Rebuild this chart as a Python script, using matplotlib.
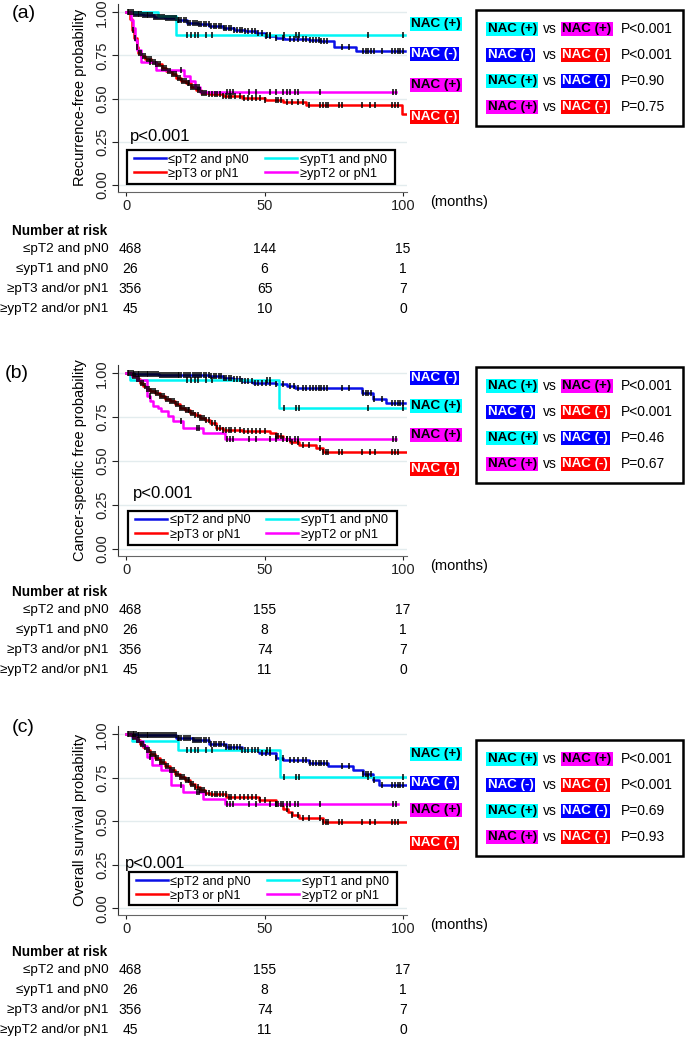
import numpy as np
import matplotlib
matplotlib.use('Agg')
import matplotlib.pyplot as plt
import matplotlib.transforms as mtransforms
from matplotlib.patches import Rectangle

plt.rcParams['font.family'] = ['Liberation Sans', 'DejaVu Sans']

# ------------------------------------------------------------------ data
panel_letters = ['(a)', '(b)', '(c)']
y_labels = ['Recurrence-free probability', 'Cancer-specific free probability',
            'Overall survival probability']
month_ticks = [0, 50, 100]
prob_ticks = [0.0, 0.25, 0.5, 0.75, 1.0]
legend_names = ['≤pT2 and pN0', '≤ypT1 and pN0', '≥pT3 or pN1', '≥ypT2 or pN1']
risk_names = ['≤pT2 and pN0', '≤ypT1 and pN0', '≥pT3 and/or pN1', '≥ypT2 and/or pN1']
risk_times = [0, 50, 100]
overall_p = ['p<0.001', 'p<0.001', 'p<0.001']

# (a) recurrence-free
blue_t_a = [0, 3, 6, 10, 14, 18, 22, 26, 30, 35, 39, 43, 47, 50, 54, 57, 66, 70, 75, 83, 100.7]
blue_s_a = [1.0, 0.99, 0.985, 0.975, 0.965, 0.955, 0.94, 0.93, 0.918, 0.908, 0.90, 0.89, 0.878,
            0.865, 0.85, 0.843, 0.839, 0.833, 0.798, 0.775, 0.775]
cyan_t_a = [0, 11.5, 18, 100.7]
cyan_s_a = [1.0, 0.98, 0.866, 0.866]
red_t_a = [0, 1.5, 2.2, 3, 3.8, 4.5, 5.5, 7, 9, 11, 13, 14.6, 16.5, 18.2, 20, 21.8, 23.5,
           25.4, 27, 30, 35, 42, 50, 56.5, 65, 99.5, 101]
red_s_a = [1.0, 0.96, 0.90, 0.85, 0.80, 0.765, 0.745, 0.727, 0.71, 0.698, 0.68, 0.659, 0.64,
           0.62, 0.605, 0.59, 0.57, 0.552, 0.533, 0.525, 0.515, 0.505, 0.495, 0.48, 0.465,
           0.41, 0.41]
mag_t_a = [0, 1.8, 2.5, 3.2, 4, 5.5, 11, 21, 23, 25, 26.6, 97.3]
mag_s_a = [1.0, 0.955, 0.91, 0.84, 0.78, 0.71, 0.665, 0.63, 0.60, 0.568, 0.539, 0.539]

# (b) cancer-specific
blue_t_b = [0, 3, 12, 30, 35, 38.5, 42, 45.8, 50, 54, 58, 61, 85, 89, 93.8, 100.8]
blue_s_b = [1.0, 0.995, 0.99, 0.985, 0.975, 0.966, 0.958, 0.947, 0.942, 0.937, 0.93, 0.918,
            0.89, 0.855, 0.829, 0.829]
cyan_t_b = [0, 1.5, 55.3, 100.8]
cyan_s_b = [1.0, 0.962, 0.80, 0.80]
red_t_b = [0, 2, 3.8, 5, 6.2, 7.4, 8.6, 10.4, 12.2, 14, 15.8, 17.6, 19.4, 21.2, 23, 24.8,
           26.6, 28.4, 30.2, 32.6, 35, 42, 51.8, 54, 56.6, 59, 62.6, 68.5, 71, 101]
red_s_b = [1.0, 0.985, 0.966, 0.945, 0.928, 0.912, 0.899, 0.885, 0.870, 0.856, 0.842, 0.823,
           0.804, 0.79, 0.775, 0.761, 0.747, 0.732, 0.718, 0.69, 0.674, 0.670, 0.657, 0.642,
           0.627, 0.608, 0.589, 0.575, 0.552, 0.552]
mag_t_b = [0, 2, 4, 7.4, 8.6, 9.8, 11.6, 12.8, 15.2, 17, 20.6, 27.8, 35.6, 97.4]
mag_s_b = [1.0, 0.985, 0.96, 0.87, 0.84, 0.813, 0.80, 0.785, 0.756, 0.728, 0.69, 0.661,
           0.623, 0.623]

# (c) overall survival
blue_t_c = [0, 4, 12, 18, 24, 30, 36, 42, 48, 54, 56.6, 66, 73, 81.8, 85.4, 89, 91.4, 101.6]
blue_s_c = [1.0, 0.997, 0.994, 0.98, 0.969, 0.946, 0.927, 0.908, 0.893, 0.866, 0.854, 0.835,
            0.816, 0.793, 0.774, 0.736, 0.707, 0.707]
cyan_t_c = [0, 2, 18.8, 55.4, 101.6]
cyan_s_c = [1.0, 0.962, 0.908, 0.755, 0.755]
red_t_c = [0, 2.5, 3.8, 5, 6.2, 7.4, 8.6, 10.4, 12.2, 14, 15.8, 17.6, 19.4, 21.2, 23, 24.8,
           26.6, 28.4, 30.2, 36.2, 48, 54, 56.6, 58.3, 60, 62.6, 71, 101.6]
red_s_c = [1.0, 0.985, 0.966, 0.946, 0.927, 0.908, 0.889, 0.865, 0.841, 0.817, 0.793, 0.774,
           0.755, 0.735, 0.716, 0.697, 0.678, 0.665, 0.655, 0.640, 0.621, 0.602, 0.573, 0.553,
           0.534, 0.521, 0.496, 0.496]
mag_t_c = [0, 2, 4, 6.2, 7.4, 9.2, 12.8, 16.4, 20.6, 27.8, 35.6, 98.3]
mag_s_c = [1.0, 0.985, 0.96, 0.93, 0.870, 0.822, 0.793, 0.707, 0.669, 0.63, 0.602, 0.602]

# censoring times (months) per group
cens_blue = [0.6, 1.2, 1.8, 2.4, 3.0, 3.6, 4.2, 4.8, 5.4, 6.0, 6.7, 7.4, 8.1, 8.8, 9.5, 10.2,
             10.9, 11.6, 12.3, 13.0, 13.7, 14.4, 15.1, 15.8, 16.5, 17.2, 17.9, 18.6, 19.3,
             20.0, 20.8, 21.6, 22.4, 23.2, 24.0, 24.8, 25.6, 26.4, 27.2, 28.0, 28.9, 29.8,
             30.7, 31.6, 32.5, 33.4, 34.3, 35.2, 36.1, 37.0, 38.0, 39.0, 40.0, 41.0, 42.0,
             43.0, 44.2, 45.4, 46.6, 47.8, 49.0, 50.5, 52.0, 54.0, 56.5, 59.0, 60.5, 62.0,
             64.0, 65.0, 66.5, 67.5, 68.5, 69.5, 70.5, 71.5, 72.5, 78.0, 80.5, 85.5, 86.5,
             87.5, 88.5, 89.5, 92.5, 96.0, 97.0, 98.0, 99.0, 100.0]
cens_cyan = [22, 23.5, 25, 26, 29, 31, 51, 52, 57, 61.5, 62.5, 87.5, 100]
cens_red = [2.6, 3.3, 4.0, 4.7, 5.4, 6.1, 6.8, 7.5, 8.2, 8.9, 9.6, 10.3, 11.0, 11.7, 12.4,
            13.1, 13.8, 14.5, 15.2, 15.9, 16.6, 17.3, 18.0, 18.7, 19.4, 20.1, 20.8, 21.5,
            22.2, 22.9, 23.6, 24.3, 25.0, 25.8, 26.6, 27.4, 28.2, 29.0, 30.0, 31.0, 32.0,
            33.0, 34.0, 35.0, 36.0, 37.0, 38.0, 39.5, 41.0, 42.5, 44.0, 45.5, 47.0, 48.5,
            50.0, 54.0, 55.0, 56.0, 58.0, 60.0, 62.0, 64.0, 66.0, 70.0, 71.0, 72.0, 73.0,
            77.0, 78.0, 85.0, 88.0, 90.0, 96.0, 97.0, 98.0]
cens_mag = [8.5, 20, 25.5, 26.5, 36.5, 37.5, 38.5, 44.5, 47, 52, 54, 56.5, 58, 59, 61, 62,
            70, 96.5, 97.3]

# number at risk per panel: rows = groups, cols = risk_times
risk_a = [[468, 144, 15], [26, 6, 1], [356, 65, 7], [45, 10, 0]]
risk_b = [[468, 155, 17], [26, 8, 1], [356, 74, 7], [45, 11, 0]]
risk_c = [[468, 155, 17], [26, 8, 1], [356, 74, 7], [45, 11, 0]]

# pairwise comparisons
pair_first = ['NAC (+)', 'NAC (-)', 'NAC (+)', 'NAC (+)']
pair_second = ['NAC (+)', 'NAC (-)', 'NAC (-)', 'NAC (-)']
pvals_a = ['P<0.001', 'P<0.001', 'P=0.90', 'P=0.75']
pvals_b = ['P<0.001', 'P<0.001', 'P=0.46', 'P=0.67']
pvals_c = ['P<0.001', 'P<0.001', 'P=0.69', 'P=0.93']

# ------------------------------------------------------------------ style
C_BLUE, C_CYAN, C_RED, C_MAG = '#0A10E6', '#00F5F5', '#FF0000', '#FF00FF'
BOX_BLUE, BOX_CYAN, BOX_RED, BOX_MAG = '#0000FF', '#00FFFF', '#FF0000', '#FF00FF'
pair_cols_1 = [(BOX_CYAN, 'black'), (BOX_BLUE, 'white'), (BOX_CYAN, 'black'), (BOX_MAG, 'black')]
pair_cols_2 = [(BOX_MAG, 'black'), (BOX_RED, 'white'), (BOX_BLUE, 'white'), (BOX_RED, 'white')]

W, H = 685, 1039
fig = plt.figure(figsize=(W / 100, H / 100), dpi=100)


def fx(x):
    return x / W


def fy(y):
    return 1 - y / H


panels = [
    dict(curves=[(blue_t_a, blue_s_a), (cyan_t_a, cyan_s_a), (red_t_a, red_s_a), (mag_t_a, mag_s_a)],
         risk=risk_a, pvals=pvals_a, y0=185.0, sc=172.7, letter_xy=(12, 13),
         ptxt=(1.4, 0.278), leg=(127, 395, 150, 184), risk_y=231, box=(10, 126),
         tags=[('NAC (+)', BOX_CYAN, 'black', 24), ('NAC (-)', BOX_BLUE, 'white', 54),
               ('NAC (+)', BOX_MAG, 'black', 85), ('NAC (-)', BOX_RED, 'white', 117)]),
    dict(curves=[(blue_t_b, blue_s_b), (cyan_t_b, cyan_s_b), (red_t_b, red_s_b), (mag_t_b, mag_s_b)],
         risk=risk_b, pvals=pvals_b, y0=548.7, sc=175.4, letter_xy=(5, 373),
         ptxt=(2.5, 0.312), leg=(128, 397, 511, 545), risk_y=592, box=(367, 483),
         tags=[('NAC (-)', BOX_BLUE, 'white', 378), ('NAC (+)', BOX_CYAN, 'black', 406),
               ('NAC (+)', BOX_MAG, 'black', 435), ('NAC (-)', BOX_RED, 'white', 469)]),
    dict(curves=[(blue_t_c, blue_s_c), (cyan_t_c, cyan_s_c), (red_t_c, red_s_c), (mag_t_c, mag_s_c)],
         risk=risk_c, pvals=pvals_c, y0=908.3, sc=174.0, letter_xy=(12, 727),
         ptxt=(-0.4, 0.26), leg=(129, 397, 872, 905), risk_y=952, box=(740, 856),
         tags=[('NAC (+)', BOX_CYAN, 'black', 754), ('NAC (-)', BOX_BLUE, 'white', 783),
               ('NAC (+)', BOX_MAG, 'black', 810), ('NAC (-)', BOX_RED, 'white', 843)]),
]

colors = [C_BLUE, C_CYAN, C_RED, C_MAG]
censors = [cens_blue, cens_cyan, cens_red, cens_mag]
AX_L, AX_R = 117.7, 407.0
XMIN, XMAX = -3.0, 101.4
YMIN, YMAX = -0.04, 1.05

for i, P in enumerate(panels):
    y0, sc = P['y0'], P['sc']
    top_px = y0 - YMAX * sc
    bot_px = y0 - YMIN * sc
    ax = fig.add_axes([fx(AX_L), fy(bot_px), (AX_R - AX_L) / W, (bot_px - top_px) / H])
    ax.set_xlim(XMIN, XMAX)
    ax.set_ylim(YMIN, YMAX)

    def axfx(px):
        return (px - AX_L) / (AX_R - AX_L)

    def axfy(py):
        return (bot_px - py) / (bot_px - top_px)

    handles = []
    for (t, s), col in zip(P['curves'], colors):
        ln, = ax.step(t, s, where='post', color=col, lw=1.8, zorder=3)
        handles.append(ln)
    for (t, s), cens in zip(P['curves'], censors):
        t_arr = np.asarray(t)
        s_arr = np.asarray(s)
        c = np.asarray([v for v in cens if v <= t_arr[-1]])
        idx = np.searchsorted(t_arr, c, side='right') - 1
        ax.plot(c, s_arr[idx], ls='none', marker='|', ms=4.2, mew=1.1, color='black', zorder=4)

    ax.spines['top'].set_visible(False)
    ax.spines['right'].set_visible(False)
    ax.spines['left'].set_color('#333333')
    ax.spines['bottom'].set_color('#666666')
    ax.set_yticks(prob_ticks)
    ax.set_yticklabels(['%.2f' % v for v in prob_ticks])
    ax.set_xticks(month_ticks)
    ax.set_xticklabels([str(v) for v in month_ticks])
    ax.tick_params(axis='y', length=4, width=0.8, pad=2, labelsize=10.5, labelrotation=90,
                   colors='#222222')
    ax.tick_params(axis='x', length=3, width=0.8, pad=2, labelsize=10.5, colors='#222222')
    for lab in ax.get_yticklabels():
        lab.set_verticalalignment('center')
    ax.yaxis.grid(True, color='#E3ECEE', lw=1.0)
    ax.set_axisbelow(True)
    ax.set_ylabel(y_labels[i], fontsize=10.5)
    ax.yaxis.set_label_coords(axfx(87), 0.5)

    ax.text(P['ptxt'][0], P['ptxt'][1], overall_p[i], fontsize=12, ha='left', va='center')

    # legend with a hand-placed frame
    lx0, lx1, lty, lby = P['leg']
    ax.add_patch(Rectangle((fx(lx0), fy(lby)), (lx1 - lx0) / W, (lby - lty) / H,
                           transform=fig.transFigure, fc='white', ec='black', lw=1.6,
                           zorder=5, clip_on=False))
    leg = ax.legend([handles[0], handles[2], handles[1], handles[3]],
                    [legend_names[0], legend_names[2], legend_names[1], legend_names[3]],
                    ncol=2, loc='upper left', bbox_to_anchor=(axfx(lx0 + 7), axfy(lty + 3.5)),
                    fontsize=9.2, frameon=False, handlelength=2.5, handletextpad=0.2,
                    labelspacing=0.18, borderpad=0, borderaxespad=0, columnspacing=1.25)
    leg.set_zorder(6)

    # panel letter
    fig.text(fx(P['letter_xy'][0]), fy(P['letter_xy'][1]), panel_letters[i], fontsize=14,
             ha='left', va='center')

    # months label
    fig.text(fx(430), fy(bot_px + 10), '(months)', fontsize=10.5, ha='left', va='center')

    # group tags at right of curves
    for txt, fc, tc, yy in P['tags']:
        fig.text(fx(411), fy(yy), txt, fontsize=9.7, weight='bold', color=tc, ha='left',
                 va='center', bbox=dict(boxstyle='square,pad=0.1', fc=fc, ec='none'))

    # comparison box
    bt, bb = P['box']
    fig.add_artist(Rectangle((fx(476), fy(bb)), (683 - 476) / W, (bb - bt) / H,
                             transform=fig.transFigure, fill=False, ec='black', lw=1.8))
    for k in range(4):
        yy = bt + 19 + 26 * k
        f1, c1 = pair_cols_1[k]
        f2, c2 = pair_cols_2[k]
        fig.text(fx(487.5), fy(yy), pair_first[k], fontsize=9.6, weight='bold', color=c1,
                 ha='left', va='center', bbox=dict(boxstyle='square,pad=0.1', fc=f1, ec='none'))
        fig.text(fx(543), fy(yy), 'vs', fontsize=10, ha='left', va='center')
        fig.text(fx(562.5), fy(yy), pair_second[k], fontsize=9.6, weight='bold', color=c2,
                 ha='left', va='center', bbox=dict(boxstyle='square,pad=0.1', fc=f2, ec='none'))
        fig.text(fx(621), fy(yy), P['pvals'][k], fontsize=10, ha='left', va='center')

    # number at risk table
    ry = P['risk_y']
    fig.text(fx(12), fy(ry), 'Number at risk', fontsize=9.8, weight='bold', ha='left',
             va='center')
    trans = mtransforms.blended_transform_factory(ax.transData, fig.transFigure)
    for g in range(4):
        yy = ry + 18 + 20 * g
        fig.text(fx(108.5), fy(yy), risk_names[g], fontsize=9.7, ha='right', va='center')
        for j, tm in enumerate(risk_times):
            off = mtransforms.ScaledTranslation(4 / 100 if j == 0 else 0, 0, fig.dpi_scale_trans)
            ax.text(tm, fy(yy), str(P['risk'][g][j]), transform=trans + off, fontsize=10,
                    ha='center', va='center', clip_on=False)

fig.savefig('out.png', dpi=100)
